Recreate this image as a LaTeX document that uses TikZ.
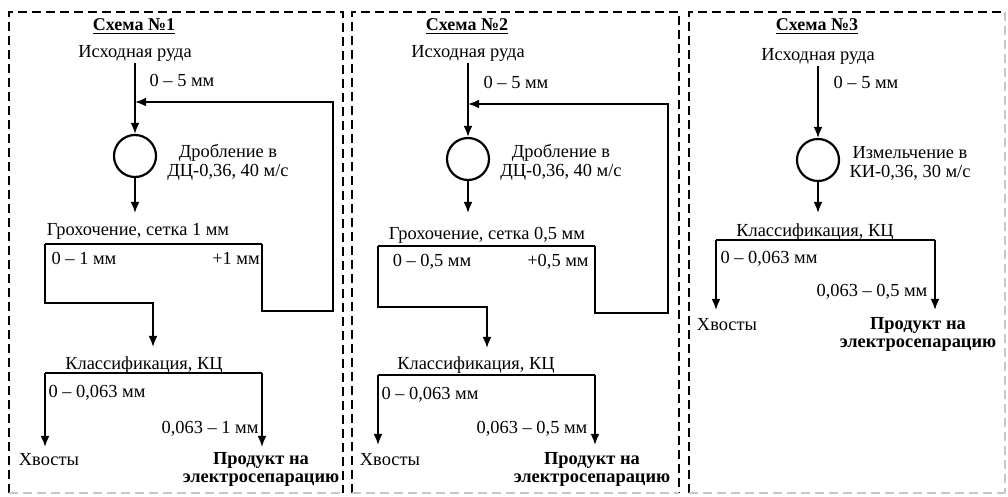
\documentclass[tikz,border=0pt]{standalone}
\usepackage{fontspec}
\setmainfont{Liberation Serif}
\usetikzlibrary{arrows.meta,positioning,calc}

\tikzset{
  flow/.style={draw, line width=0.85pt, -{Latex[length=5.5pt,width=4.4pt]}},
  pipe/.style={draw, line width=0.85pt},
  thickpipe/.style={draw, line width=1.3pt},
  mill/.style={circle, draw, line width=1.1pt, minimum size=21pt, inner sep=0pt},
  lbl/.style={font=\fontsize{9.2}{9.5}\selectfont, inner sep=1pt, align=center},
  prod/.style={font=\fontsize{9.2}{9}\selectfont\bfseries, inner sep=1pt, align=center},
  ttl/.style={font=\fontsize{9}{10}\selectfont\bfseries, inner sep=1pt},
  panel/.style={draw, line width=0.8pt, dash pattern=on 4.5pt off 2.5pt},
  panelfaint/.style={draw, gray!45, line width=0.6pt, dash pattern=on 4.5pt off 2.5pt}
}

\begin{document}
\begin{tikzpicture}[x=0.5pt, y=-0.5pt]
\useasboundingbox (0,0) rectangle (1008,497);

% panels
\draw[panel] (9,493) |- (343,12) -- (343,493);
\draw[panel] (352,493) |- (679,12) -- (679,493);
\draw[panel] (689,493) |- (1005,12);
\draw[panelfaint] (1005,12) -- (1005,493);
\draw[panelfaint] (9,493) -- (343,493);
\draw[panelfaint] (352,493) -- (679,493);
\draw[panelfaint] (689,493) -- (1005,493);

% Схема 1
\node[ttl] (ttl1) at (134,27) {\underline{Схема №1}};
\node[lbl] (ruda1) at (135,53) {Исходная руда};
\node[lbl] (d1) at (182,80) {0 – 5 мм};
\node[mill] (mill1) at (135,156) {};
\node[lbl] (dr1) at (228,162) {Дробление в\\ДЦ-0,36, 40 м/с};
\node[lbl] (gr1) at (138,231) {Грохочение, сетка 1 мм};
\node[lbl] (fine1) at (84,258) {0 – 1 мм};
\node[lbl] (over1) at (236,258) {+1 мм};
\node[lbl] (kl1) at (144,365) {Классификация, КЦ};
\node[lbl] (f01) at (97,393) {0 – 0,063 мм};
\node[lbl] (f02) at (210,429) {0,063 – 1 мм};
\node[lbl] (hv1) at (49,460) {Хвосты};
\node[prod] (pr1) at (261,469) {Продукт на\\электросепарацию};
\coordinate (j1) at (135,102);
\coordinate (m1out) at (135,213);
\coordinate (g1l) at (45,244);
\coordinate (g1r) at (262,244);
\coordinate (u1) at (153,303);
\coordinate (k1in) at (153,347);
\coordinate (ret1) at (333,311);
\coordinate (k1l) at (45,373);
\coordinate (k1r) at (262,373);
\coordinate (hv1in) at (45,447);
\coordinate (pr1in) at (262,447);
\draw[pipe] (ruda1.south) -- (j1);
\draw[flow] (j1) -- (mill1.north);
\draw[flow] (mill1.south) -- (m1out);
\draw[pipe] (g1l) -- (g1r);
\draw[flow] (g1r) |- (ret1) |- (j1);
\draw[flow] (g1l) |- (u1) -- (k1in);
\draw[thickpipe] (k1l) -- (k1r);
\draw[flow] (k1l) -- (hv1in);
\draw[flow] (k1r) -- (pr1in);

% Схема 2
\node[ttl] (ttl2) at (467,27) {\underline{Схема №2}};
\node[lbl] (ruda2) at (468,53) {Исходная руда};
\node[lbl] (d2) at (516,82) {0 – 5 мм};
\node[mill] (mill2) at (468,159) {};
\node[lbl] (dr2) at (561,162) {Дробление в\\ДЦ-0,36, 40 м/с};
\node[lbl] (gr2) at (487,235) {Грохочение, сетка 0,5 мм};
\node[lbl] (fine2) at (432,262) {0 – 0,5 мм};
\node[lbl] (over2) at (558,262) {+0,5 мм};
\node[lbl] (kl2) at (476,365) {Классификация, КЦ};
\node[lbl] (f21) at (430,395) {0 – 0,063 мм};
\node[lbl] (f22) at (532,429) {0,063 – 0,5 мм};
\node[lbl] (hv2) at (390,460) {Хвосты};
\node[prod] (pr2) at (592,469) {Продукт на\\электросепарацию};
\coordinate (j2) at (468,104);
\coordinate (m2out) at (468,213);
\coordinate (g2l) at (378,246);
\coordinate (g2r) at (595,246);
\coordinate (u2) at (487,307);
\coordinate (k2in) at (487,348);
\coordinate (ret2) at (668,313);
\coordinate (k2l) at (378,375);
\coordinate (k2r) at (595,375);
\coordinate (hv2in) at (378,445);
\coordinate (pr2in) at (595,445);
\draw[pipe] (ruda2.south) -- (j2);
\draw[flow] (j2) -- (mill2.north);
\draw[flow] (mill2.south) -- (m2out);
\draw[pipe] (g2l) -- (g2r);
\draw[flow] (g2r) |- (ret2) |- (j2);
\draw[flow] (g2l) |- (u2) -- (k2in);
\draw[pipe] (k2l) -- (k2r);
\draw[flow] (k2l) -- (hv2in);
\draw[flow] (k2r) -- (pr2in);

% Схема 3
\node[ttl] (ttl3) at (817,27) {\underline{Схема №3}};
\node[lbl] (ruda3) at (818,56) {Исходная руда};
\node[lbl] (d3) at (866,82) {0 – 5 мм};
\node[mill] (mill3) at (818,160) {};
\node[lbl] (izm3) at (910,163) {Измельчение в\\КИ-0,36, 30 м/с};
\node[lbl] (kl3) at (815,232) {Классификация, КЦ};
\node[lbl] (f31) at (769,259) {0 – 0,063 мм};
\node[lbl] (f32) at (872,292) {0,063 – 0,5 мм};
\node[lbl] (hv3) at (727,325) {Хвосты};
\node[prod] (pr3) at (918,334) {Продукт на\\электросепарацию};
\coordinate (m3out) at (818,213);
\coordinate (k3l) at (716,240);
\coordinate (k3r) at (935,240);
\coordinate (hv3in) at (716,310);
\coordinate (pr3in) at (935,310);
\draw[flow] (ruda3.south) -- (mill3.north);
\draw[flow] (mill3.south) -- (m3out);
\draw[pipe] (k3l) -- (k3r);
\draw[flow] (k3l) -- (hv3in);
\draw[flow] (k3r) -- (pr3in);
\end{tikzpicture}
\end{document}
